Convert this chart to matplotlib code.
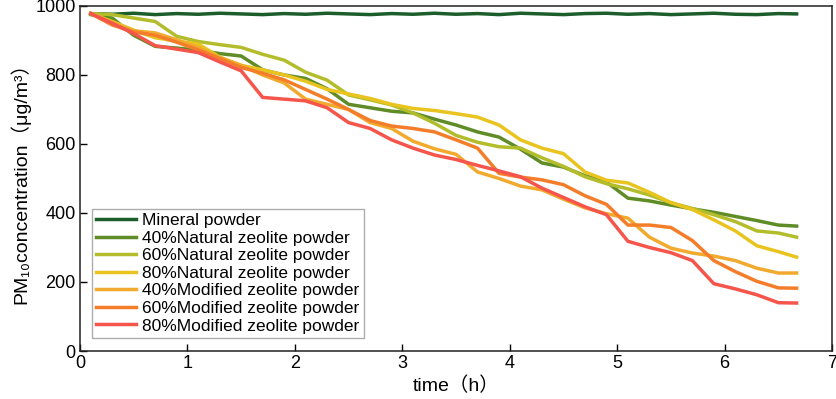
import numpy as np
import matplotlib
matplotlib.use('Agg')
import matplotlib.pyplot as plt

plt.rcParams['font.family'] = ['Liberation Sans', 'Noto Sans CJK SC', 'DejaVu Sans']

# time (h)
t = [0.1, 0.3, 0.5, 0.7, 0.9, 1.1, 1.3, 1.5, 1.7, 1.9, 2.1, 2.3, 2.5, 2.7, 2.9, 3.1, 3.3,
     3.5, 3.7, 3.9, 4.1, 4.3, 4.5, 4.7, 4.9, 5.1, 5.3, 5.5, 5.7, 5.9, 6.1, 6.3, 6.5, 6.67]

mineral = [978, 976, 979, 975, 978, 976, 979, 977, 975, 978, 976, 979, 977, 975, 978, 976, 979,
           976, 978, 975, 979, 977, 975, 978, 979, 976, 978, 975, 977, 979, 976, 975, 978, 977]
nat40 = [975, 965, 915, 883, 878, 872, 862, 855, 815, 800, 790, 760, 715, 705, 695, 690, 672,
         655, 635, 620, 585, 545, 533, 508, 490, 443, 435, 423, 412, 402, 390, 378, 365, 362]
nat60 = [978, 975, 965, 955, 912, 897, 888, 880, 860, 843, 808, 785, 742, 728, 713, 690, 660,
         625, 605, 592, 588, 560, 535, 505, 485, 470, 452, 430, 413, 395, 375, 348, 342, 330]
nat80 = [978, 955, 930, 908, 898, 890, 852, 828, 815, 800, 782, 758, 745, 732, 715, 703, 697,
         688, 678, 655, 612, 588, 572, 519, 495, 487, 460, 430, 410, 380, 348, 305, 288, 272]
mod40 = [978, 952, 928, 922, 902, 880, 850, 828, 800, 777, 730, 715, 700, 662, 645, 608, 586,
         570, 519, 500, 478, 467, 440, 415, 398, 385, 330, 298, 284, 275, 262, 240, 226, 226]
mod60 = [978, 945, 925, 915, 895, 873, 848, 822, 805, 786, 758, 730, 700, 668, 652, 645, 635,
         612, 588, 515, 504, 496, 482, 450, 425, 365, 365, 358, 320, 262, 230, 202, 183, 182]
mod80 = [978, 950, 920, 885, 875, 865, 838, 812, 735, 730, 725, 705, 662, 645, 612, 588, 568,
         555, 538, 522, 505, 472, 445, 418, 395, 318, 300, 285, 262, 195, 180, 163, 140, 139]

labels = ['Mineral powder', '40%Natural zeolite powder', '60%Natural zeolite powder',
          '80%Natural zeolite powder', '40%Modified zeolite powder',
          '60%Modified zeolite powder', '80%Modified zeolite powder']
colors = ['#1b5e2c', '#5f8c26', '#b3bd2c', '#e9c41f', '#f2aa2e', '#f47d2a', '#f5554a']
series = [mineral, nat40, nat60, nat80, mod40, mod60, mod80]

fig = plt.figure(figsize=(8.37, 3.99), dpi=100)
ax = fig.add_axes([0.0956, 0.1203, 0.8985, 0.8647])

for y, c, lab in zip(series, colors, labels):
    ax.plot(t, y, color=c, lw=2.5, label=lab, solid_joinstyle='round')

ax.set_xlim(0, 7)
ax.set_ylim(0, 1000)
ax.set_xticks(range(0, 8))
ax.set_yticks(range(0, 1001, 200))
ax.tick_params(direction='in', length=5, width=1, labelsize=13, top=False, right=False)
ax.tick_params(axis='x', pad=3)
ax.tick_params(axis='y', pad=3)
for s in ax.spines.values():
    s.set_linewidth(1.1)
    s.set_color('#222222')

ax.set_xlabel('time（h）', fontsize=14, labelpad=3)
ax.set_ylabel('PM₁₀concentration（μg/m³）', fontsize=14, labelpad=4)

leg = ax.legend(loc='lower left', bbox_to_anchor=(0.016, 0.038), fontsize=12.5,
                frameon=True, fancybox=False, edgecolor='#999999', handlelength=2.3,
                labelspacing=0.14, borderpad=0.25, handletextpad=0.35, borderaxespad=0)
leg.get_frame().set_linewidth(1.0)

fig.savefig('out.png', dpi=100)
